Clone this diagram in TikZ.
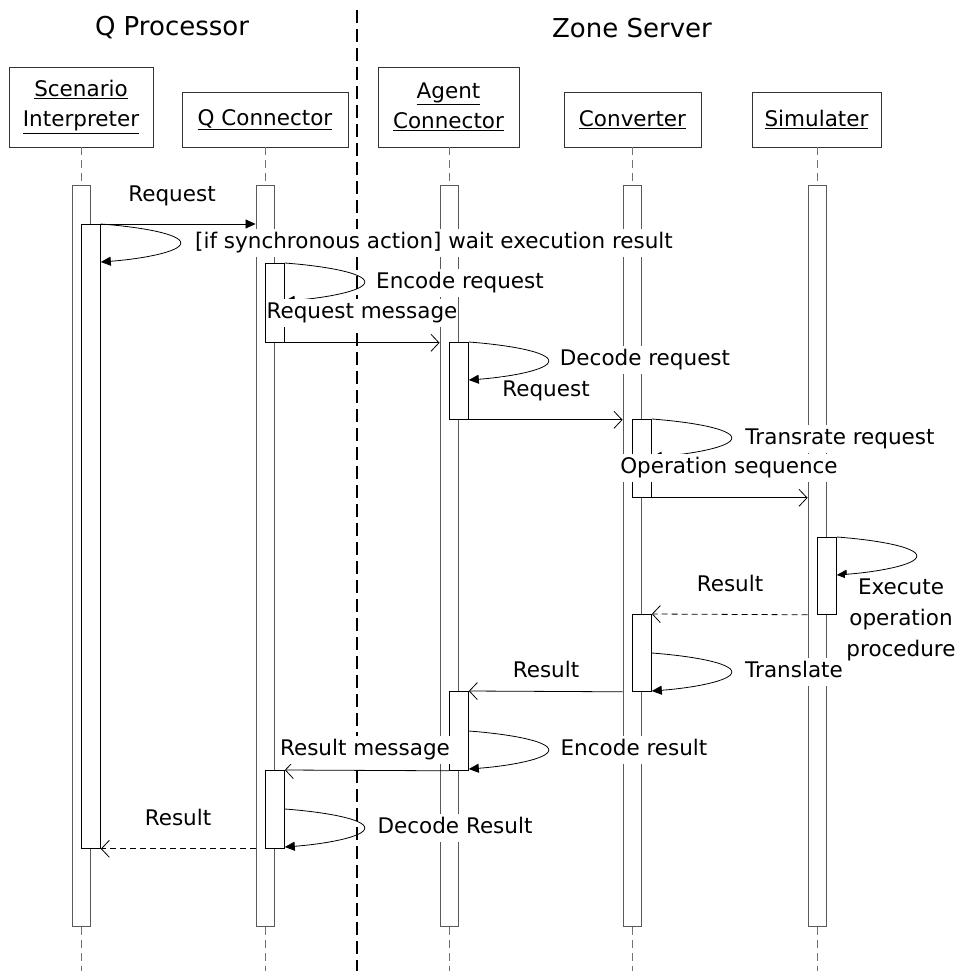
\documentclass[tikz,border=0pt]{standalone}
\usepackage{fontspec}
\setmainfont{DejaVu Sans}
\usetikzlibrary{arrows.meta,calc}
\tikzset{
 hdr/.style={draw=black!80, fill=white, line width=0.8pt, align=center, inner sep=0pt, font=\fontsize{21.5}{30}\selectfont},
 obar/.style={draw=black!65, fill=white, line width=0.9pt, rectangle, minimum width=18pt, minimum height=741pt, inner sep=0pt, anchor=north},
 ibar/.style={draw=black, fill=white, line width=0.8pt, rectangle, minimum width=19pt, inner sep=0pt, anchor=north west},
 lifeline/.style={draw=black!55, line width=0.8pt, dash pattern=on 8pt off 5pt},
 divider/.style={draw=black, line width=1.3pt, dash pattern=on 13pt off 6pt},
 msg/.style={draw=black, line width=0.8pt, -{Straight Barb[length=8pt,width=17pt]}},
 sync/.style={draw=black, line width=0.8pt, -{Triangle[length=10pt,width=9pt]}},
 ret/.style={msg, dash pattern=on 6pt off 4pt},
 selfarrow/.style={draw=black, line width=0.8pt, -{Triangle[length=10pt,width=9pt]}},
 lblbase/.style={fill=white, inner xsep=1pt, inner ysep=4pt, font=\fontsize{21.5}{31}\selectfont},
 lbl/.style={lblbase, text height=15.5pt, text depth=4.5pt},
 ttl/.style={font=\fontsize{26}{30}\selectfont},
}
\newcommand\selfloop[1]{\draw[selfarrow] (#1) .. controls ($(#1)+(40,3)$) and ($(#1)+(80,10)$) .. ($(#1)+(80,19)$) .. controls ($(#1)+(80,28)$) and ($(#1)+(40,35)$) .. ($(#1)+(0,38)$);}
\begin{document}
\begin{tikzpicture}[x=1pt,y=-1pt]
\useasboundingbox (0,0) rectangle (955,971);
\coordinate (bottom) at (0,971);
% titles
\node[ttl] (tQ) at (172,28) {Q Processor};
\node[ttl] (tZ) at (632,28) {Zone Server};
% headers
\node[hdr, minimum width=144pt, minimum height=80pt] (hS) at (81,107) {\underline{Scenario}\\\underline{Interpreter}};
\node[hdr, minimum width=166pt, minimum height=55pt] (hQ) at (265,119.5) {\underline{Q Connector}};
\node[hdr, minimum width=141pt, minimum height=80pt] (hA) at (448.5,107) {\underline{Agent}\\\underline{Connector}};
\node[hdr, minimum width=137pt, minimum height=55pt] (hC) at (632.5,119.5) {\underline{Converter}};
\node[hdr, minimum width=129pt, minimum height=55pt] (hM) at (816.5,119.5) {\underline{Simulater}};
% outer bars
\node[obar] (S0) at (81,185) {};
\node[obar] (Q0) at (265,185) {};
\node[obar] (A0) at (449,185) {};
\node[obar] (C0) at (632,185) {};
\node[obar] (M0) at (817,185) {};
% lifelines
\foreach \h/\b in {hS/S0,hQ/Q0,hA/A0,hC/C0,hM/M0}{
  \draw[lifeline] (\b.north |- \h.south) -- (\b.north);
  \draw[lifeline] (\b.south) -- (\b.south |- bottom);
}
% divider
\coordinate (divtop) at (357,10);
\draw[divider] (divtop) -- (divtop |- bottom);
% inner bars
\node[ibar, minimum height=624pt] (S1) at (81,224) {};
\node[ibar, minimum height=79pt] (Q1) at (265,263) {};
\node[ibar, minimum height=77pt] (A1) at (449,342) {};
\node[ibar, minimum height=78pt] (C1) at (632,419) {};
\node[ibar, minimum height=77pt] (M1) at (817,537) {};
\node[ibar, minimum height=77pt] (C2) at (632,614) {};
\node[ibar, minimum height=79pt] (A2) at (449,691) {};
\node[ibar, minimum height=78pt] (Q2) at (265,770) {};
% messages
\draw[sync] (S0.east |- S1.north) -- (Q0.west |- S1.north);
\draw[msg] (Q1.south east) -- (A0.west |- Q1.south);
\draw[msg] (A1.south east) -- (C0.west |- A1.south);
\draw[msg] (C1.south east) -- (M0.west |- C1.south);
\draw[ret] (M0.west |- M1.south) -- (C2.north east);
\draw[msg] (C0.west |- C2.south) -- (A2.north east);
\draw[msg] (A2.south west) -- (Q2.north east);
\draw[ret] (Q0.west |- Q2.south) -- (S1.south east);
% self messages
\selfloop{S1.north east}
\selfloop{Q1.north east}
\selfloop{A1.north east}
\selfloop{C1.north east}
\selfloop{M1.north east}
\coordinate (c2s) at ($(C2.north east)+(0,39)$);
\selfloop{c2s}
\coordinate (a2s) at ($(A2.north east)+(0,40)$);
\selfloop{a2s}
\coordinate (q2s) at ($(Q2.north east)+(0,39)$);
\selfloop{q2s}
% labels
\node[lbl] (l1) at (172,196) {Request};
\node[lbl] (l2) at (434,243) {[if synchronous action] wait execution result};
\node[lbl] (l3) at (460,283) {Encode request};
\node[lbl] (l4) at (362,313) {Request message};
\node[lbl] (l5) at (645,360) {Decode request};
\node[lbl] (l6) at (546,391) {Request};
\node[lbl] (l7) at (840,439) {Transrate request};
\node[lbl] (l8) at (729,468) {Operation sequence};
\node[lbl] (l10) at (730,586) {Result};
\node[lblbase, align=center] (l9) at (901,620) {Execute\\operation\\procedure};
\node[lbl] (l11) at (794,672) {Translate};
\node[lbl] (l12) at (546,672) {Result};
\node[lbl] (l13) at (634,750) {Encode result};
\node[lbl] (l14) at (365,750) {Result message};
\node[lbl] (l15) at (455,828) {Decode Result};
\node[lbl] (l16) at (178,820) {Result};
\end{tikzpicture}
\end{document}
